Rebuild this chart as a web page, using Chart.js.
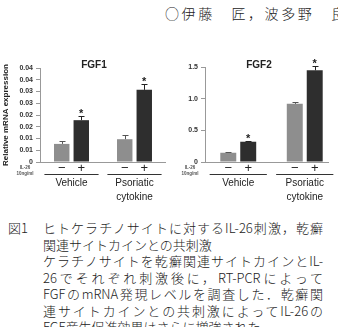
<!DOCTYPE html>
<html lang="ja">
<head>
<meta charset="utf-8">
<script src="https://cdn.jsdelivr.net/npm/chart.js@4.4.1/dist/chart.umd.min.js"></script>
<style>
  body { margin: 0; width: 338px; height: 327px; overflow: hidden; background: #fff; position: relative;
         font-family: "Noto Sans CJK JP", sans-serif; color: #222; }
  canvas { position: absolute; }
  #head { position: absolute; left: 165px; top: 5px; font-size: 14px; line-height: 16px; letter-spacing: 2.6px;
          white-space: nowrap; font-weight: 300; }
  .ln { position: absolute; left: 43px; width: 280px; height: 16px; font-size: 13px; line-height: 16px;
        white-space: nowrap; text-align: justify; text-align-last: justify; font-weight: 300; }
  .ln.l { text-align-last: left; }
  #fig { position: absolute; left: 8px; top: 220px; font-size: 13px; line-height: 16px; font-weight: 300; }
</style>
</head>
<body>
<div id="head">○伊藤　匠，波多野　良</div>
<canvas id="fgf1" width="168" height="150" style="left:0;top:55px"></canvas>
<canvas id="fgf2" width="170" height="150" style="left:168px;top:55px"></canvas>
<div id="fig">図1</div>
<div class="ln" style="top:220px">ヒトケラチノサイトに対するIL-26刺激，乾癬</div>
<div class="ln l" style="top:236.5px">関連サイトカインとの共刺激</div>
<div class="ln" style="top:253px">ケラチノサイトを乾癬関連サイトカインとIL-</div>
<div class="ln" style="top:269.5px">26でそれぞれ刺激後に，RT-PCRによって</div>
<div class="ln" style="top:286px">FGFのmRNA発現レベルを調査した．乾癬関</div>
<div class="ln" style="top:302.5px">連サイトカインとの共刺激によってIL-26の</div>
<div class="ln l" style="top:319px">FGF産生促進効果はさらに増強された．</div>
<script>
const groups = [['Vehicle'], ['Psoriatic', 'cytokine']];
const il26 = ['−', '+'];

const fgf1Minus = [0.0077, 0.0097];
const fgf1Plus = [0.0178, 0.0307];
const fgf1MinusErr = [0.0014, 0.0017];
const fgf1PlusErr = [0.0017, 0.0024];
const fgf1PlusSig = [true, true];
const fgf1Ticks = ['0', '0.01', '0.01', '0.02', '0.02', '0.03', '0.03', '0.04', '0.04'];

const fgf2Minus = [0.146, 0.918];
const fgf2Plus = [0.32, 1.448];
const fgf2MinusErr = [0.008, 0.03];
const fgf2PlusErr = [0.015, 0.06];
const fgf2PlusSig = [true, true];
const fgf2Ticks = ['0', '0.5', '1.0', '1.5'];

const sans = '"Liberation Sans", Arial, sans-serif';

// error bars, stars, title and the labels under the axis
const deco = {
  id: 'deco',
  afterDatasetsDraw(chart, args, opts) {
    const ctx = chart.ctx, y = chart.scales.y;
    chart.data.datasets.forEach((ds, i) => {
      chart.getDatasetMeta(i).data.forEach((bar, j) => {
        const top = Math.round(y.getPixelForValue(ds.data[j] + ds.err[j])) + 0.5;
        const bx = Math.round(bar.x) + 0.5;
        ctx.save();
        ctx.strokeStyle = ds.errColor;
        ctx.lineWidth = 1;
        ctx.beginPath();
        ctx.moveTo(bx, bar.y);
        ctx.lineTo(bx, top);
        ctx.moveTo(bx - 3, top);
        ctx.lineTo(bx + 3, top);
        ctx.stroke();
        if (ds.sig && ds.sig[j]) {
          ctx.fillStyle = '#222';
          ctx.font = 'bold 11px ' + sans;
          ctx.textAlign = 'center';
          ctx.textBaseline = 'alphabetic';
          ctx.fillText('*', bar.x, top);
        }
        ctx.restore();
      });
    });
  },
  afterDraw(chart, args, opts) {
    const ctx = chart.ctx, a = chart.chartArea, x = chart.scales.x;
    ctx.save();
    // baseline
    ctx.strokeStyle = '#999';
    ctx.lineWidth = 1;
    ctx.beginPath();
    ctx.moveTo(a.left, Math.round(a.bottom) + 0.5);
    ctx.lineTo(a.right - opts.baseTrim, Math.round(a.bottom) + 0.5);
    ctx.stroke();

    ctx.fillStyle = '#222';
    ctx.textAlign = 'center';
    ctx.textBaseline = 'middle';
    ctx.font = 'bold 10px ' + sans;
    ctx.fillText(opts.title, opts.titleX, 10);

    ctx.font = '13px ' + sans;
    chart.data.datasets.forEach((ds, i) => {
      chart.getDatasetMeta(i).data.forEach(bar => ctx.fillText(il26[i], bar.x, a.bottom + 6.5));
    });

    const half = x.width / groups.length * 0.43;
    ctx.strokeStyle = '#333';
    ctx.font = '10px ' + sans;
    groups.forEach((g, j) => {
      const cx = x.getPixelForValue(j);
      const ly = Math.round(a.bottom + 12) + 0.5;
      ctx.beginPath();
      ctx.moveTo(cx - half, ly);
      ctx.lineTo(cx + half, ly);
      ctx.stroke();
      g.forEach((t, k) => ctx.fillText(t, cx, a.bottom + 21 + k * 14));
    });

    ctx.fillStyle = '#555';
    ctx.font = 'bold 4.5px ' + sans;
    ctx.fillText('IL-26', a.left - 15, a.bottom + 6);
    ctx.fillText('10ng/ml', a.left - 15, a.bottom + 11.5);
    ctx.restore();
  }
};

function makeChart(id, minus, plus, minusErr, plusErr, plusSig, ticks, yMax, step, o) {
  return new Chart(document.getElementById(id), {
    type: 'bar',
    data: {
      labels: groups,
      datasets: [
        { label: '−', data: minus, err: minusErr, backgroundColor: '#8e8e8e', errColor: '#555',
          categoryPercentage: o.cp, barPercentage: o.bp },
        { label: '+', data: plus, err: plusErr, sig: plusSig, backgroundColor: '#2e2e2e', errColor: '#222',
          categoryPercentage: o.cp, barPercentage: o.bp },
      ],
    },
    options: {
      responsive: false,
      animation: false,
      layout: { padding: { top: o.top, right: o.right, left: 0, bottom: 0 } },
      plugins: {
        legend: { display: false },
        tooltip: { enabled: false },
        deco: { title: o.title, titleX: o.titleX, baseTrim: o.baseTrim },
      },
      scales: {
        x: {
          grid: { display: false },
          border: { display: false },
          ticks: { display: false },
          afterFit: s => { s.height = 43; },
        },
        y: {
          min: 0,
          max: yMax,
          ticks: { stepSize: step, padding: 3, color: '#333', font: { family: sans, size: 7, weight: 'bold' },
                   callback: (v, i) => ticks[i] },
          grid: { drawOnChartArea: false, tickLength: 4, color: '#999' },
          border: { color: '#999' },
          title: { display: !!o.yTitle, text: o.yTitle, color: '#222', padding: { top: 1, bottom: 0 },
                   font: { family: sans, size: 8, weight: 'bold' } },
          afterFit: s => { s.width = o.yWidth; },
        },
      },
    },
    plugins: [deco],
  });
}

makeChart('fgf1', fgf1Minus, fgf1Plus, fgf1MinusErr, fgf1PlusErr, fgf1PlusSig, fgf1Ticks, 0.04, 0.005,
  { cp: 0.62, bp: 0.79, top: 13, right: 2, yWidth: 40, title: 'FGF1', titleX: 94, baseTrim: 0,
    yTitle: 'Relative mRNA expression' });
makeChart('fgf2', fgf2Minus, fgf2Plus, fgf2MinusErr, fgf2PlusErr, fgf2PlusSig, fgf2Ticks, 1.5, 0.5,
  { cp: 0.6, bp: 0.8, top: 12, right: 0, yWidth: 37, title: 'FGF2', titleX: 91, baseTrim: 9, yTitle: '' });
</script>
</body>
</html>
